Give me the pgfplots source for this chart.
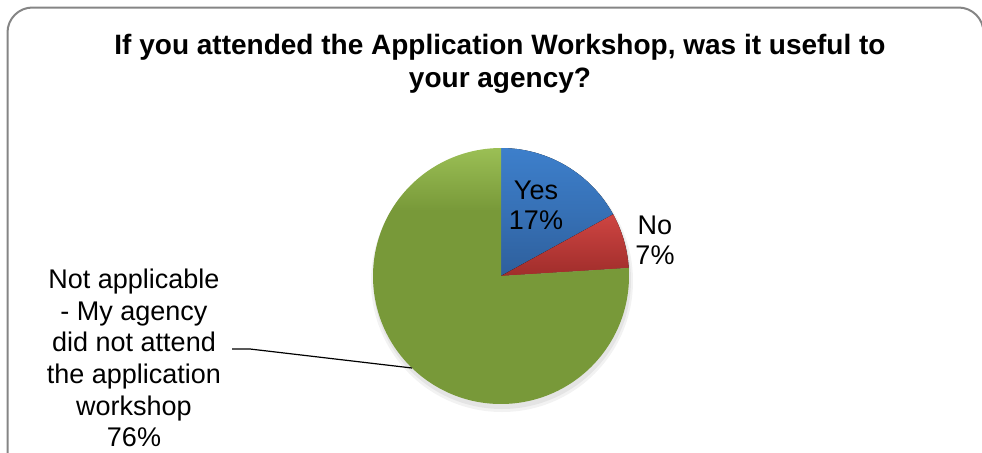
\documentclass[border=0pt]{standalone}
\usepackage{fontspec}
\setmainfont{Liberation Sans}
\usepackage{pgfplots}
\usepackage{pgfplotstable}
\pgfplotsset{compat=1.18}

\definecolor{yesA}{HTML}{3D7FCB}
\definecolor{yesB}{HTML}{2E5F9C}
\definecolor{noA}{HTML}{CE4542}
\definecolor{noB}{HTML}{A02D2B}
\definecolor{naA}{HTML}{9BBF55}
\definecolor{naB}{HTML}{789939}
\definecolor{frame}{HTML}{858585}

% green slice: dark almost everywhere, lighter only near the top
\pgfdeclareverticalshading{nashade}{100bp}{color(0bp)=(naB); color(25bp)=(naB);
  color(63bp)=(naB); color(75bp)=(naA); color(100bp)=(naA)}

\pgfplotstableread{
label pct
Yes 17
No 7
NA 76
}\piedata

\pgfplotstablegetelem{0}{pct}\of\piedata \let\pYes\pgfplotsretval
\pgfplotstablegetelem{1}{pct}\of\piedata \let\pNo\pgfplotsretval
\pgfplotstablegetelem{2}{pct}\of\piedata \let\pNA\pgfplotsretval
\pgfmathsetmacro\aA{90-3.6*\pYes}
\pgfmathsetmacro\aB{\aA-3.6*\pNo}
\pgfmathsetmacro\aC{\aB-3.6*\pNA}

\begin{document}
\begin{tikzpicture}
\begin{axis}[
  scale only axis,
  width=491pt, height=226pt,
  xmin=0, xmax=982, ymin=0, ymax=452,
  hide axis, clip=false
]
% chart frame, cut by the picture edge at the bottom and right
\begin{scope}
  \clip (axis cs:0,0) rectangle (axis cs:982,452);
  \draw[frame, line width=1pt, rounded corners=12.5pt]
    (axis cs:7.5,-30) rectangle (axis cs:983.5,444.5);
\end{scope}

% soft shadow
\fill[black, opacity=0.05] (axis cs:502,171) circle[radius=65.5pt];
\fill[black, opacity=0.06] (axis cs:502,172) circle[radius=64.5pt];

% wedges
\fill[top color=yesA, bottom color=yesB, middle color=yesA!55!yesB]
  (axis cs:501,176) -- ++(90:64pt) arc[start angle=90, end angle=\aA, radius=64pt] -- cycle;
\fill[top color=noA, bottom color=noB]
  (axis cs:501,176) -- ++(\aA:64pt) arc[start angle=\aA, end angle=\aB, radius=64pt] -- cycle;
\shade[shading=nashade]
  (axis cs:501,176) -- ++(\aB:64pt) arc[start angle=\aB, end angle=\aC, radius=64pt] -- cycle;

% title
\node[font=\fontsize{14}{16.5}\selectfont\bfseries, align=center]
  at (axis cs:500,388.5) {If you attended the Application Workshop, was it useful to\\your agency?};

% data labels
\node[font=\fontsize{13.5}{15}\selectfont, align=center]
  at (axis cs:536,246.5) {Yes\\\pYes\%};
\node[font=\fontsize{13.5}{15}\selectfont, align=center]
  at (axis cs:655,212) {No\\\pNo\%};
\node[font=\fontsize{13.5}{15.8}\selectfont, align=center]
  at (axis cs:134,94) {Not applicable\\- My agency\\did not attend\\the application\\workshop\\\pNA\%};
\draw[black, line width=0.6pt]
  (axis cs:232,103) -- (axis cs:250,103) -- (axis cs:412,84);
\end{axis}
\pgfresetboundingbox
\useasboundingbox (current axis.south west) rectangle (current axis.north east);
\end{tikzpicture}
\end{document}
